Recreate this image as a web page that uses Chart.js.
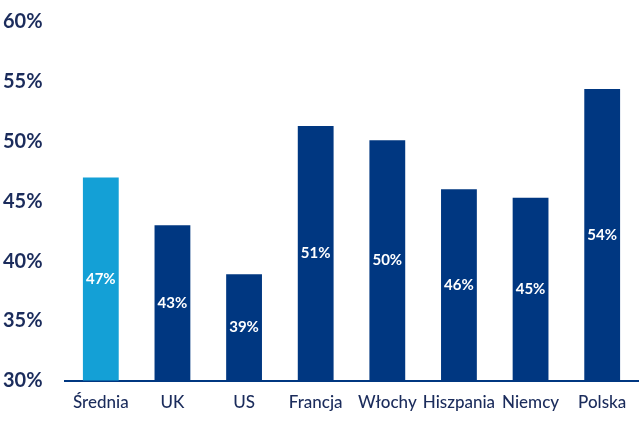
<!DOCTYPE html>
<html>
<head>
<meta charset="utf-8">
<script src="https://cdn.jsdelivr.net/npm/chart.js@4/dist/chart.umd.min.js"></script>
<style>
  html, body { margin: 0; padding: 0; background: #ffffff; }
  #wrap { width: 640px; height: 425px; position: relative; }
</style>
</head>
<body>
<div id="wrap"><canvas id="c" width="640" height="425"></canvas></div>
<script>
const categories = ["Średnia", "UK", "US", "Francja", "Włochy", "Hiszpania", "Niemcy", "Polska"];
const values = [47.0, 43.0, 38.9, 51.3, 50.1, 46.0, 45.3, 54.4];
const valueLabels = ["47%", "43%", "39%", "51%", "50%", "46%", "45%", "54%"];
const yTicks = [30, 35, 40, 45, 50, 55, 60];

const NAVY = "#003781";
const LIGHT = "#14a0d6";
const TEXT = "#1b2c5c";
const FONT = "Lato, 'Open Sans', sans-serif";

const barLabels = {
  id: "barLabels",
  afterDatasetsDraw(chart) {
    const ctx = chart.ctx;
    const meta = chart.getDatasetMeta(0);
    const yScale = chart.scales.y;
    const base = yScale.getPixelForValue(yScale.min);
    ctx.save();
    ctx.fillStyle = "#ffffff";
    ctx.font = "bold 15px " + FONT;
    ctx.textAlign = "center";
    ctx.textBaseline = "middle";
    meta.data.forEach((bar, i) => {
      const top = yScale.getPixelForValue(values[i]);
      ctx.fillText(valueLabels[i], bar.x, (top + base) / 2);
    });
    ctx.restore();
  }
};

new Chart(document.getElementById("c"), {
  type: "bar",
  data: {
    labels: categories,
    datasets: [{
      data: values,
      backgroundColor: values.map((v, i) => i === 0 ? LIGHT : NAVY),
      borderWidth: 0,
      barPercentage: 0.5,
      categoryPercentage: 1.0
    }]
  },
  options: {
    responsive: false,
    animation: false,
    layout: { padding: { top: 22, right: 2, bottom: 0, left: 3 } },
    plugins: { legend: { display: false }, tooltip: { enabled: false } },
    scales: {
      x: {
        grid: { display: false, drawTicks: false },
        border: { display: true, color: NAVY, width: 2 },
        ticks: { color: TEXT, font: { family: FONT, size: 17, weight: "500" }, padding: 12, maxRotation: 0, minRotation: 0, autoSkip: false }
      },
      y: {
        min: 30, max: 60,
        afterBuildTicks(axis) { axis.ticks = yTicks.map(v => ({ value: v })); },
        afterFit(axis) { axis.width = 62; },
        grid: { display: false, drawTicks: false },
        border: { display: false },
        ticks: {
          color: TEXT,
          crossAlign: "far",
          font: { family: FONT, size: 20, weight: "bold" },
          callback: v => v + "%"
        }
      }
    }
  },
  plugins: [barLabels]
});
</script>
</body>
</html>
